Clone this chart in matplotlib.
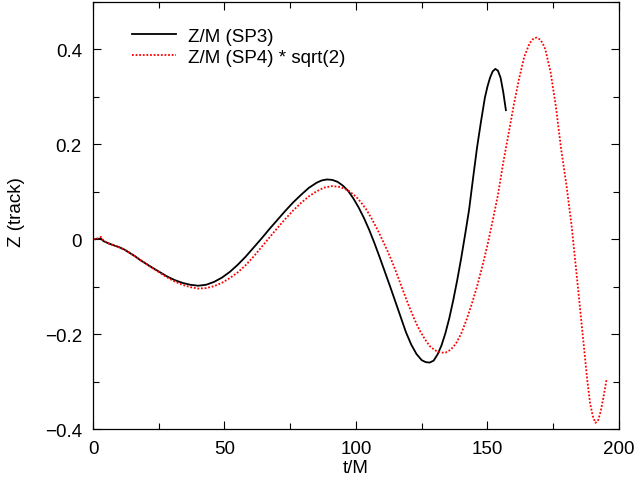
import matplotlib
matplotlib.use("Agg")
import matplotlib.pyplot as plt
from matplotlib.ticker import MultipleLocator

plt.rcParams['font.family'] = ['Liberation Sans', 'DejaVu Sans']

# Z/M (SP3)
t_sp3 = [0, 1, 2, 3, 4, 6, 8, 10, 12, 14, 16, 18, 20, 22, 25, 28, 31, 34,
         37, 40, 43, 46, 49, 52, 55, 58, 61, 64, 67, 70, 73, 76, 79, 82, 85,
         87, 89, 91, 93, 95, 97, 99, 101, 103, 105, 107, 109, 111, 113, 115,
         117, 119, 121, 123, 125, 126.5, 128, 129.5, 131, 132.5, 134, 135.5,
         137, 138.5, 140, 141.5, 143, 144.5, 146, 147.5, 149, 150, 151, 152,
         153, 154, 155, 156, 157]
z_sp3 = [0.0, 0.0, 0.001, 0.001, -0.004, -0.009, -0.013, -0.017, -0.022,
         -0.029, -0.036, -0.044, -0.051, -0.058, -0.068, -0.078, -0.086,
         -0.092, -0.096, -0.098, -0.096, -0.090, -0.081, -0.069, -0.054,
         -0.037, -0.018, 0.001, 0.021, 0.040, 0.059, 0.077, 0.093, 0.108,
         0.119, 0.124, 0.126, 0.125, 0.121, 0.113, 0.102, 0.086, 0.067,
         0.045, 0.020, -0.008, -0.038, -0.069, -0.100, -0.132, -0.164,
         -0.196, -0.222, -0.242, -0.255, -0.259, -0.260, -0.256, -0.243,
         -0.224, -0.198, -0.166, -0.128, -0.086, -0.040, 0.010, 0.062,
         0.128, 0.192, 0.247, 0.298, 0.322, 0.341, 0.354, 0.359, 0.355,
         0.340, 0.310, 0.272]

# Z/M (SP4) * sqrt(2)
t_sp4 = [0, 1, 2, 3, 4, 6, 8, 10, 12, 14, 16, 18, 20, 22, 25, 28, 31, 34,
         37, 40, 43, 46, 49, 52, 55, 58, 61, 64, 67, 70, 73, 76, 79, 82, 85,
         88, 91, 94, 97, 100, 102, 104, 106, 108, 110, 112, 114, 116, 118,
         120, 122, 124, 126, 128, 130, 132, 134, 136, 138, 140, 142, 144,
         146, 148, 150, 152, 154, 156, 158, 160, 162, 164, 166, 167.5, 168.7,
         170, 171, 172, 174, 176, 178, 180, 182, 184, 186, 187, 188, 189,
         190, 191, 192, 193, 194, 195.3]
z_sp4 = [0.0, 0.001, 0.002, 0.005, -0.003, -0.009, -0.013, -0.017, -0.022,
         -0.029, -0.036, -0.044, -0.051, -0.059, -0.069, -0.080, -0.089,
         -0.096, -0.101, -0.104, -0.103, -0.099, -0.092, -0.082, -0.070,
         -0.055, -0.037, -0.017, 0.003, 0.023, 0.042, 0.060, 0.076, 0.090,
         0.101, 0.109, 0.112, 0.110, 0.103, 0.090, 0.077, 0.062, 0.043,
         0.022, -0.001, -0.025, -0.051, -0.080, -0.110, -0.139, -0.166,
         -0.190, -0.209, -0.225, -0.234, -0.239, -0.239, -0.233, -0.220,
         -0.199, -0.170, -0.137, -0.100, -0.058, -0.012, 0.040, 0.094,
         0.162, 0.222, 0.283, 0.338, 0.385, 0.413, 0.423, 0.425, 0.421,
         0.413, 0.400, 0.352, 0.280, 0.190, 0.115, 0.028, -0.080, -0.190,
         -0.245, -0.300, -0.345, -0.372, -0.387, -0.383, -0.364, -0.336,
         -0.295]

fig = plt.figure(figsize=(6.34, 4.85), dpi=100)
ax = fig.add_axes([0.1467, 0.1134, 0.8296, 0.8804])

ax.plot(t_sp3, z_sp3, color='black', lw=1.3, label='Z/M (SP3)')
ax.plot(t_sp4, z_sp4, color='red', lw=1.3, ls=(0, (1, 1)),
        label='Z/M (SP4) * sqrt(2)')

ax.set_xlim(0, 200)
ax.set_ylim(-0.4, 0.5)
ax.xaxis.set_major_locator(MultipleLocator(50))
ax.xaxis.set_minor_locator(MultipleLocator(25))
ax.yaxis.set_minor_locator(MultipleLocator(0.1))
ax.set_yticks([-0.4, -0.2, 0, 0.2, 0.4])
ax.set_yticklabels(['\u22120.4', '\u22120.2', '0', '0.2', '0.4'])

ax.tick_params(which='both', direction='in', top=True, right=True,
               labelsize=13.5, width=0.8)
ax.tick_params(which='major', length=6)
ax.tick_params(which='minor', length=4)
ax.tick_params(axis='y', pad=8)
ax.tick_params(axis='x', pad=8)
for s in ax.spines.values():
    s.set_linewidth(0.9)

ax.set_xlabel('t/M', fontsize=13.5)
ax.set_ylabel('Z (track)', fontsize=13.5)
ax.xaxis.set_label_coords(0.5, -0.07)
ax.yaxis.set_label_coords(-0.13, 0.51)

ax.legend(loc='upper left', bbox_to_anchor=(0.06, 0.957), frameon=False,
          fontsize=13.5, handlelength=2.36, handletextpad=0.6,
          labelspacing=0.2, borderaxespad=0)

fig.savefig('out.png', dpi=100)
